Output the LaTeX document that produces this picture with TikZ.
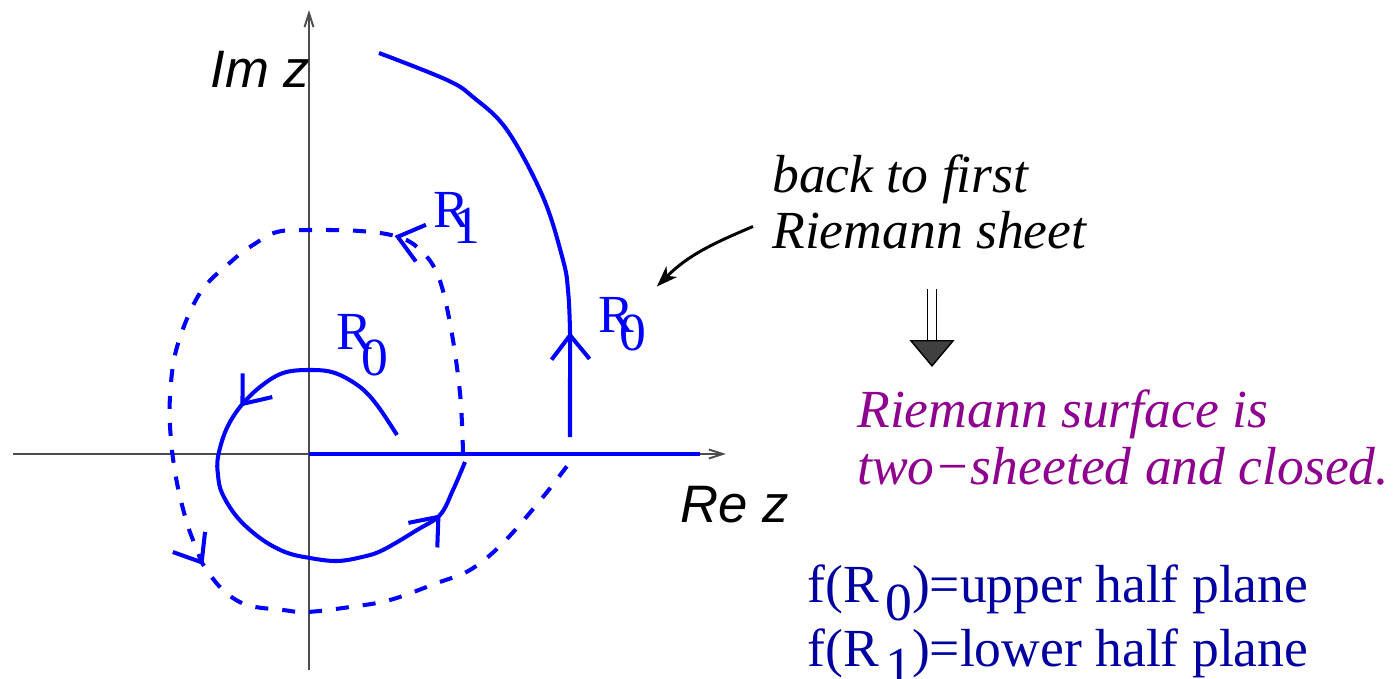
\documentclass[tikz,border=0pt]{standalone}
\usepackage{fontspec}
\setmainfont{Liberation Serif}
\setsansfont{Liberation Sans}
\usetikzlibrary{arrows.meta, decorations.markings}
\definecolor{sheetblue}{HTML}{0000FF}
\definecolor{mapblue}{HTML}{0000A0}
\definecolor{surfpurple}{HTML}{8E008E}
\definecolor{tipgray}{HTML}{404040}
\newcommand{\Rlab}[3]{R\kern#2\raisebox{-#3}{#1}}

\begin{document}
\begin{tikzpicture}[x=0.02cm, y=-0.02cm,
    axisline/.style = {line width=1.1pt, color=black!70,
                       -{Straight Barb[length=0.28cm, width=0.18cm]}},
    sheet0/.style   = {line width=2.3pt, color=sheetblue},
    sheet1/.style   = {sheet0, dash pattern=on 0.26cm off 0.28cm},
    flowat/.style   = {postaction={decorate, decoration={markings,
                       mark=at position #1 with {\arrow{Straight Barb[length=0.48cm, width=0.76cm]}}}}},
    rlab/.style     = {anchor=base west, inner sep=0pt, text=sheetblue,
                       font=\fontsize{30.5}{32}\selectfont},
    axlab/.style    = {anchor=base west, inner sep=0pt,
                       font=\sffamily\itshape\fontsize{30}{32}\selectfont},
    remark/.style   = {anchor=base west, inner sep=0pt, align=left},
    pointer/.style  = {line width=1.7pt, -{Stealth[length=0.42cm, width=0.3cm, inset=0.12cm]}},
    implies/.style  = {double, double distance=0.16cm, line width=0.8pt,
                       -{Triangle[length=0.54cm, width=0.9cm, fill=tipgray]}},
  ]
    \useasboundingbox (0,0) rectangle (1397,679);

    %% ── Axes ────────────────────────────────────────────────────────────────
    \coordinate (o)    at (309,454);
    \coordinate (xend) at (726,454);
    \coordinate (yend) at (309,10);
    \draw[axisline] (13,454) -- (xend);
    \draw[axisline] (309,670) -- (yend);
    \node[axlab] (imz) at (210,88)  {Im z};
    \node[axlab] (rez) at (680,522) {Re z};

    %% cut along the positive real axis
    \draw[sheet0] (o) -- (700,454);

    %% ── First sheet, inner loop ─────────────────────────────────────────────
    \draw[sheet0, flowat=3.94cm, flowat=-1.16cm] plot[smooth, tension=0.6] coordinates {
        (397,435) (377,405) (360,387) (335,373) (310,370) (283,373) (260,387)
        (240,407) (226,430) (218,457) (218,475) (222,493) (237,517) (260,538)
        (285,552) (310,558) (337,561) (362,557) (383,550) (417,530) (440,515)
        (453,490) (465,462)};

    %% ── Second sheet (dashed) ───────────────────────────────────────────────
    \draw[sheet1, flowat=4.82cm, flowat=14.82cm] plot[smooth, tension=0.6] coordinates {
        (463,453) (460,393) (450,323) (437,273) (417,247) (395,236) (360,231)
        (310,230) (277,232) (253,245) (233,260) (200,293) (177,347) (170,397)
        (171,440) (177,483) (187,523) (197,550) (204,566) (223,590) (247,605)
        (283,610) (307,612) (350,607) (390,600) (437,583) (470,570) (503,543)
        (543,497) (570,462)};

    %% ── Back on the first sheet ─────────────────────────────────────────────
    \draw[sheet0, flowat=2.1cm] plot[smooth, tension=0.6] coordinates {
        (570,437) (570,385) (570,332) (568,290) (563,260) (543,197) (507,130)
        (473,97) (447,80) (379,53)};

    %% ── Sheet labels ────────────────────────────────────────────────────────
    \node[rlab] (r0in)  at (336,349) {\Rlab{0}{-0.2em}{0.5em}};
    \node[rlab] (r0out) at (598,332) {\Rlab{0}{-0.27em}{0.35em}};
    \node[rlab] (r1)    at (433,227) {\Rlab{1}{-0.3em}{0.3em}};

    %% ── Remarks (anchored on the last line) ─────────────────────────────────
    \node[remark, font=\itshape\fontsize{30.5}{31.8}\selectfont]
          (back) at (772,248) {back to first\\Riemann sheet};
    \node[remark, text=surfpurple, font=\itshape\fontsize{30.5}{32.3}\selectfont]
          (surf) at (857,484) {Riemann surface is\\two−sheeted and closed.};
    \node[remark, text=mapblue, font=\fontsize{30.5}{36.3}\selectfont]
          (maps) at (807,666)
          {f(R\kern0.12em\raisebox{-0.34em}{0})=upper half plane\\
           f(R\kern0.12em\raisebox{-0.34em}{1})=lower half plane};

    %% pointer onto the returning path
    \draw[pointer] ([shift={(-19,25)}]back.west) to[out=203, in=45]
          ([shift={(10,-10)}]r0out.north east);

    %% conclusion
    \coordinate (implytip) at (932,367);
    \draw[implies] ([yshift=-0.8cm]back.south -| implytip) -- (implytip);

  \end{tikzpicture}
\end{document}
